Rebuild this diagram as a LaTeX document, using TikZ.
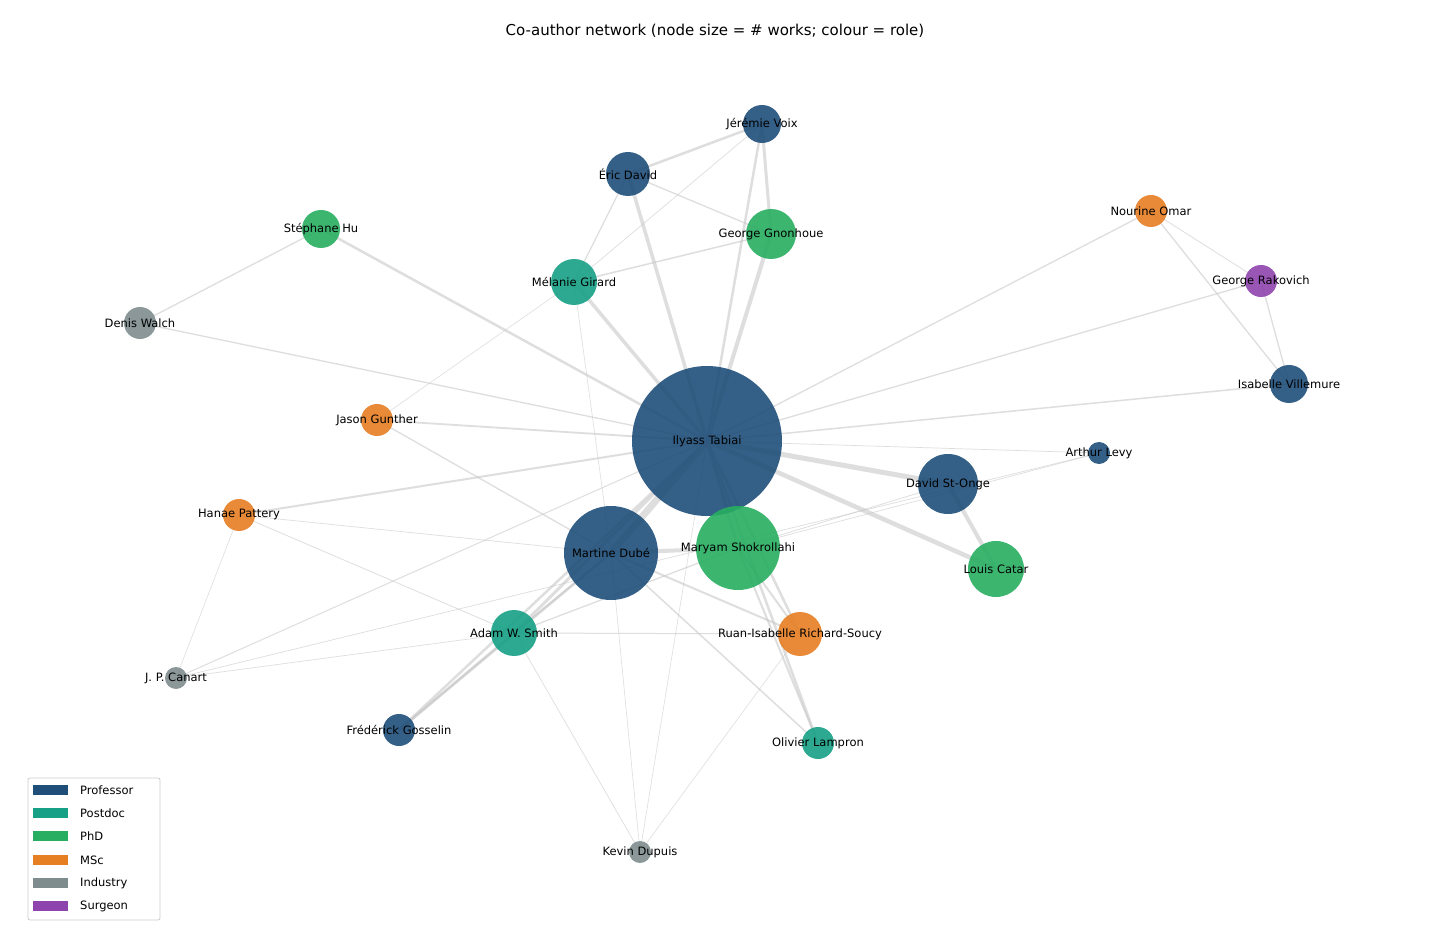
\documentclass[tikz,border=0pt]{standalone}
\usepackage{fontspec}
\setmainfont{DejaVu Sans}
\definecolor{prof}{HTML}{1F4E79}
\definecolor{postdoc}{HTML}{16A085}
\definecolor{phd}{HTML}{27AE60}
\definecolor{msc}{HTML}{E67E22}
\definecolor{indus}{HTML}{7F8C8D}
\definecolor{surg}{HTML}{8E44AD}
\definecolor{edgec}{HTML}{C8C8C8}
\begin{document}
\begin{tikzpicture}[x=1pt,y=-1pt,
  e/.style={draw=edgec,opacity=0.6,line width=#1},
  e/.default=1.3,
  au/.style={circle,inner sep=0pt,fill opacity=0.9,draw=none},
  lb/.style={font=\fontsize{11.5}{13}\selectfont,text=black,inner sep=0pt},
  leg/.style={fill=#1,minimum width=35pt,minimum height=10pt,inner sep=0pt,draw=none}]
\useasboundingbox (0,0) rectangle (1430,949);
\fill[white] (0,0) rectangle (1430,949);
\node[font=\fontsize{15}{18}\selectfont] (title) at (715,31) {Co-author network (node size = \# works; colour = role)};
% coordinates
\coordinate (T) at (707,441);
\coordinate (MD) at (611,553);
\coordinate (MS) at (738,548);
\coordinate (DS) at (948,484);
\coordinate (LC) at (996,569);
\coordinate (RR) at (800,634);
\coordinate (AS) at (514,633);
\coordinate (GG) at (771,234);
\coordinate (MG) at (574,282);
\coordinate (ED) at (628,174);
\coordinate (JV) at (762,124);
\coordinate (SH) at (321,229);
\coordinate (DW) at (140,323);
\coordinate (JG) at (377,420);
\coordinate (HP) at (239,515);
\coordinate (JC) at (176,678);
\coordinate (FG) at (399,730);
\coordinate (OL) at (818,743);
\coordinate (KD) at (640,852);
\coordinate (NO) at (1151,211);
\coordinate (GR) at (1261,281);
\coordinate (IV) at (1289,384);
\coordinate (AL) at (1099,453);
% edges
\draw[e=2.5] (T) -- (SH);
\draw[e] (T) -- (DW);
\draw[e=1.8] (T) -- (JG);
\draw[e=2] (T) -- (HP);
\draw[e=3.5] (T) -- (MG);
\draw[e=3.5] (T) -- (ED);
\draw[e=4] (T) -- (GG);
\draw[e=2.5] (T) -- (JV);
\draw[e] (T) -- (NO);
\draw[e] (T) -- (GR);
\draw[e=1.5] (T) -- (IV);
\draw[e=0.7] (T) -- (AL);
\draw[e=5] (T) -- (DS);
\draw[e=4.5] (T) -- (LC);
\draw[e=7] (T) -- (MD);
\draw[e=3] (T) -- (MS);
\draw[e=2.5] (T) -- (RR);
\draw[e=2.5] (T) -- (OL);
\draw[e=3] (T) -- (AS);
\draw[e=2.5] (T) -- (FG);
\draw[e=1] (T) -- (JC);
\draw[e=0.6] (T) -- (KD);
\draw[e] (SH) -- (DW);
\draw[e=2.5] (ED) -- (JV);
\draw[e=1.3] (ED) -- (GG);
\draw[e=1.3] (ED) -- (MG);
\draw[e=0.7] (JV) -- (MG);
\draw[e=3] (JV) -- (GG);
\draw[e=1.5] (MG) -- (GG);
\draw[e=0.6] (MG) -- (JG);
\draw[e=0.6] (MG) -- (MD);
\draw[e=1.3] (JG) -- (MD);
\draw[e] (NO) -- (IV);
\draw[e] (GR) -- (IV);
\draw[e=0.8] (NO) -- (GR);
\draw[e=4] (DS) -- (LC);
\draw[e=0.8] (DS) -- (MS);
\draw[e=0.7] (AL) -- (MS);
\draw[e=0.7] (AL) -- (JC);
\draw[e=0.7] (HP) -- (MD);
\draw[e=0.8] (HP) -- (AS);
\draw[e=0.6] (HP) -- (JC);
\draw[e=0.7] (JC) -- (AS);
\draw[e=1] (AS) -- (RR);
\draw[e=0.7] (AS) -- (KD);
\draw[e=2.5] (AS) -- (FG);
\draw[e=1.3] (AS) -- (MS);
\draw[e=2] (AS) -- (MD);
\draw[e=2.5] (FG) -- (MD);
\draw[e=1.5] (MD) -- (OL);
\draw[e=0.6] (MD) -- (KD);
\draw[e=2] (MD) -- (RR);
\draw[e=4] (MD) -- (MS);
\draw[e=0.6] (RR) -- (KD);
\draw[e=2] (MS) -- (OL);
\draw[e=2] (MS) -- (RR);
% author circles
\node[au,fill=prof,minimum size=150pt] (nT) at (T) {};
\node[au,fill=prof,minimum size=94pt] (nMD) at (MD) {};
\node[au,fill=phd,minimum size=84pt] (nMS) at (MS) {};
\node[au,fill=prof,minimum size=60pt] (nDS) at (DS) {};
\node[au,fill=phd,minimum size=56pt] (nLC) at (LC) {};
\node[au,fill=msc,minimum size=44pt] (nRR) at (RR) {};
\node[au,fill=postdoc,minimum size=46pt] (nAS) at (AS) {};
\node[au,fill=phd,minimum size=50pt] (nGG) at (GG) {};
\node[au,fill=postdoc,minimum size=46pt] (nMG) at (MG) {};
\node[au,fill=prof,minimum size=44pt] (nED) at (ED) {};
\node[au,fill=prof,minimum size=38pt] (nJV) at (JV) {};
\node[au,fill=phd,minimum size=38pt] (nSH) at (SH) {};
\node[au,fill=indus,minimum size=32pt] (nDW) at (DW) {};
\node[au,fill=msc,minimum size=32pt] (nJG) at (JG) {};
\node[au,fill=msc,minimum size=32pt] (nHP) at (HP) {};
\node[au,fill=indus,minimum size=22pt] (nJC) at (JC) {};
\node[au,fill=prof,minimum size=32pt] (nFG) at (FG) {};
\node[au,fill=postdoc,minimum size=32pt] (nOL) at (OL) {};
\node[au,fill=indus,minimum size=22pt] (nKD) at (KD) {};
\node[au,fill=msc,minimum size=32pt] (nNO) at (NO) {};
\node[au,fill=surg,minimum size=32pt] (nGR) at (GR) {};
\node[au,fill=prof,minimum size=38pt] (nIV) at (IV) {};
\node[au,fill=prof,minimum size=22pt] (nAL) at (AL) {};
% labels
\node[lb] (lT) at (T) {Ilyass Tabiai};
\node[lb] (lMD) at (MD) {Martine Dubé};
\node[lb] (lMS) at (MS) {Maryam Shokrollahi};
\node[lb] (lDS) at (DS) {David St-Onge};
\node[lb] (lLC) at (LC) {Louis Catar};
\node[lb] (lRR) at (RR) {Ruan-Isabelle Richard-Soucy};
\node[lb] (lAS) at (AS) {Adam W. Smith};
\node[lb] (lGG) at (GG) {George Gnonhoue};
\node[lb] (lMG) at (MG) {Mélanie Girard};
\node[lb] (lED) at (ED) {Éric David};
\node[lb] (lJV) at (JV) {Jérémie Voix};
\node[lb] (lSH) at (SH) {Stéphane Hu};
\node[lb] (lDW) at (DW) {Denis Walch};
\node[lb] (lJG) at (JG) {Jason Gunther};
\node[lb] (lHP) at (HP) {Hanae Pattery};
\node[lb] (lJC) at (JC) {J. P. Canart};
\node[lb] (lFG) at (FG) {Frédérick Gosselin};
\node[lb] (lOL) at (OL) {Olivier Lampron};
\node[lb] (lKD) at (KD) {Kevin Dupuis};
\node[lb] (lNO) at (NO) {Nourine Omar};
\node[lb] (lGR) at (GR) {George Rakovich};
\node[lb] (lIV) at (IV) {Isabelle Villemure};
\node[lb] (lAL) at (AL) {Arthur Levy};
% legend
\draw[draw=black!20,fill=white,fill opacity=0.8,rounded corners=2pt,line width=0.8pt] (28,778) rectangle (160,920);
\node[leg=prof] (k1) at (50.5,790) {};
\node[leg=postdoc] (k2) at (50.5,813) {};
\node[leg=phd] (k3) at (50.5,836) {};
\node[leg=msc] (k4) at (50.5,860) {};
\node[leg=indus] (k5) at (50.5,883) {};
\node[leg=surg] (k6) at (50.5,906) {};
\node[lb,anchor=west] (t1) at (80,790) {Professor};
\node[lb,anchor=west] (t2) at (80,813) {Postdoc};
\node[lb,anchor=west] (t3) at (80,836) {PhD};
\node[lb,anchor=west] (t4) at (80,860) {MSc};
\node[lb,anchor=west] (t5) at (80,883) {Industry};
\node[lb,anchor=west] (t6) at (80,906) {Surgeon};
\end{tikzpicture}
\end{document}
